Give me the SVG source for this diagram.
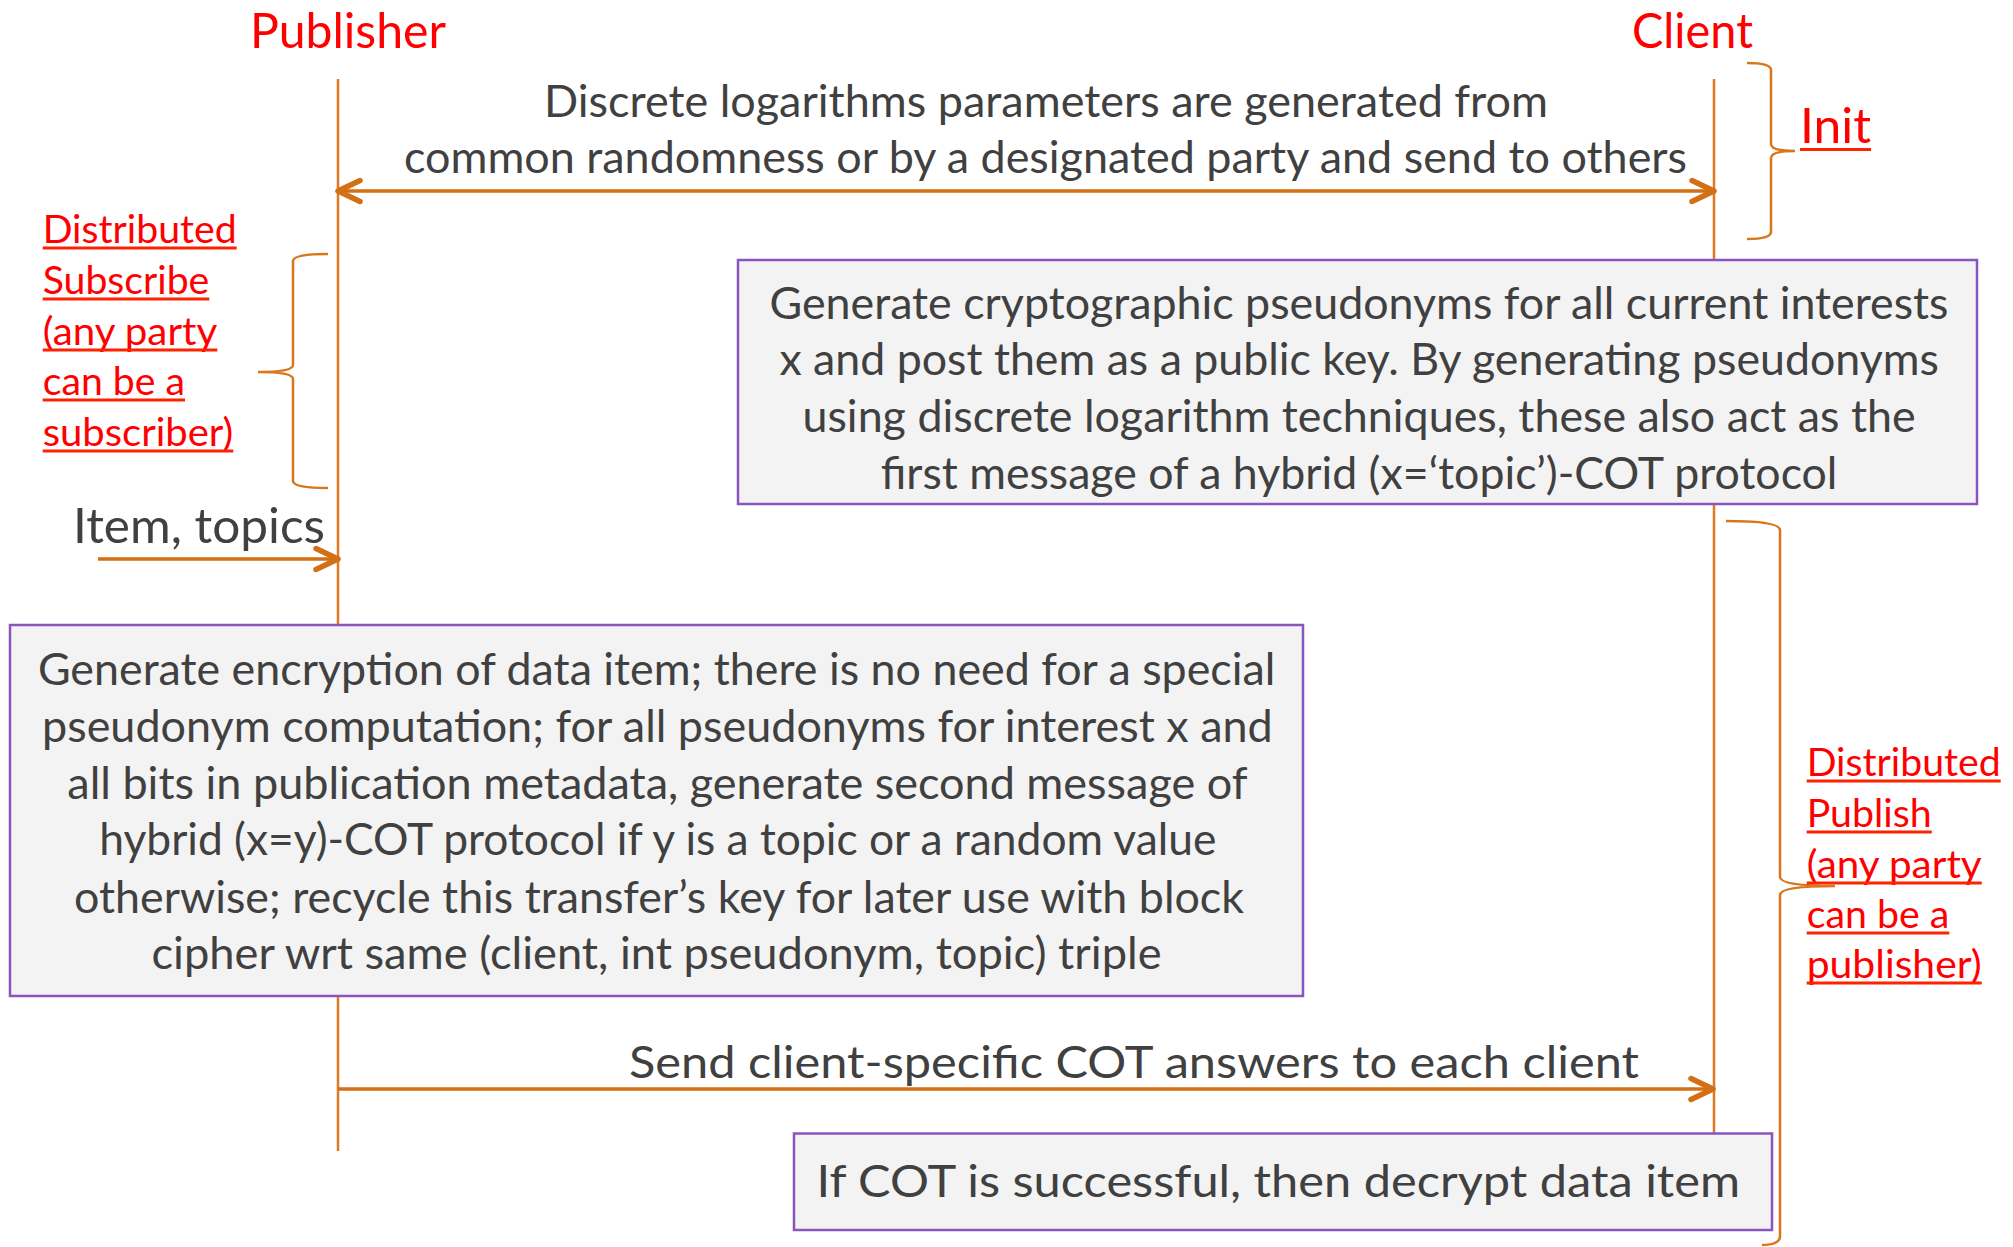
<svg xmlns="http://www.w3.org/2000/svg" width="2013" height="1247" viewBox="0 0 2013 1247">
  <style>
    .title { font-family: Lato, "Liberation Sans", sans-serif; font-size: 48px; fill: #FF0000; }
    .body { font-family: Lato, "Liberation Sans", sans-serif; font-size: 44px; fill: #404040; }
    .big { font-family: Lato, "Liberation Sans", sans-serif; font-size: 48px; fill: #404040; }
    .note { font-family: Lato, "Liberation Sans", sans-serif; font-size: 39px; fill: #FF0000; }
    .uline { stroke: #FF2200; stroke-width: 3; }
    .box { fill: #F3F3F3; stroke: #8A55BF; stroke-width: 2.5; }
    .life { stroke: #E07A22; stroke-width: 2.5; fill: none; }
    .msg { stroke: #D36F14; stroke-width: 3.5; fill: none; }
    .brace { stroke: #D9761C; stroke-width: 2.5; fill: none; }
  </style>
  <defs>
    <marker id="chev" viewBox="-27 -15 32 30" refX="0" refY="0" markerWidth="32" markerHeight="30" markerUnits="userSpaceOnUse" orient="auto-start-reverse">
      <path d="M-22,-10.5 L0,0 L-22,10.5" fill="none" stroke="#D36F14" stroke-width="5.5" stroke-linecap="round" stroke-linejoin="round"/>
    </marker>
  </defs>

  <rect width="2013" height="1247" fill="#FFFFFF"/>

  <!-- lifelines and messages -->
  <g id="connectors">
    <line class="life" x1="338" y1="79" x2="338" y2="1151"/>
    <line class="life" x1="1714" y1="79" x2="1714" y2="1134"/>
    <line id="msg-params" class="msg" x1="338" y1="191" x2="1714" y2="191" marker-start="url(#chev)" marker-end="url(#chev)"/>
    <line id="msg-item" class="msg" x1="98" y1="559" x2="338" y2="559" marker-end="url(#chev)"/>
    <line id="msg-answers" class="msg" x1="338" y1="1089" x2="1713" y2="1089" marker-end="url(#chev)"/>
  </g>

  <!-- participants -->
  <g id="publisher">
    <text class="title" x="250" y="48" textLength="196" lengthAdjust="spacingAndGlyphs">Publisher</text>
  </g>
  <g id="client">
    <text class="title" x="1632" y="48" textLength="121" lengthAdjust="spacingAndGlyphs">Client</text>
  </g>

  <!-- message labels -->
  <g id="label-params">
    <text class="body" x="544" y="117" textLength="1004" lengthAdjust="spacingAndGlyphs">Discrete logarithms parameters are generated from</text>
    <text class="body" x="404" y="173" textLength="1283" lengthAdjust="spacingAndGlyphs">common randomness or by a designated party and send to others</text>
  </g>
  <g id="label-item">
    <text class="big" x="73" y="543" textLength="252" lengthAdjust="spacingAndGlyphs">Item, topics</text>
  </g>
  <g id="label-answers">
    <text class="body" x="629" y="1078" textLength="1010" lengthAdjust="spacingAndGlyphs">Send client-specific COT answers to each client</text>
  </g>

  <!-- client: pseudonym generation -->
  <g id="box-pseudonyms">
    <rect class="box" x="738" y="260" width="1239" height="244"/>
    <text class="body" x="769.5" y="319" textLength="1179" lengthAdjust="spacingAndGlyphs">Generate cryptographic pseudonyms for all current interests</text>
    <text class="body" x="779.4" y="375" textLength="1159.4" lengthAdjust="spacingAndGlyphs">x and post them as a public key. By generating pseudonyms</text>
    <text class="body" x="802.5" y="432" textLength="1113.2" lengthAdjust="spacingAndGlyphs">using discrete logarithm techniques, these also act as the</text>
    <text class="body" x="880.8" y="489" textLength="956.6" lengthAdjust="spacingAndGlyphs">first message of a hybrid (x=‘topic’)-COT protocol</text>
  </g>

  <!-- publisher: encryption -->
  <g id="box-encryption">
    <rect class="box" x="10" y="625" width="1293" height="371"/>
    <text class="body" x="37.9" y="685" textLength="1237.4" lengthAdjust="spacingAndGlyphs">Generate encryption of data item; there is no need for a special</text>
    <text class="body" x="42" y="742" textLength="1230.7" lengthAdjust="spacingAndGlyphs">pseudonym computation; for all pseudonyms for interest x and</text>
    <text class="body" x="67.3" y="799" textLength="1180.2" lengthAdjust="spacingAndGlyphs">all bits in publication metadata, generate second message of</text>
    <text class="body" x="99.3" y="855" textLength="1117" lengthAdjust="spacingAndGlyphs">hybrid (x=y)-COT protocol if y is a topic or a random value</text>
    <text class="body" x="74" y="913" textLength="1170" lengthAdjust="spacingAndGlyphs">otherwise; recycle this transfer’s key for later use with block</text>
    <text class="body" x="151.5" y="969" textLength="1010.1" lengthAdjust="spacingAndGlyphs">cipher wrt same (client, int pseudonym, topic) triple</text>
  </g>

  <!-- client: decryption -->
  <g id="box-decrypt">
    <rect class="box" x="794" y="1133.5" width="978" height="96.5"/>
    <text class="body" x="816.5" y="1197" textLength="923.5" lengthAdjust="spacingAndGlyphs">If COT is successful, then decrypt data item</text>
  </g>

  <!-- phase annotations -->
  <g id="phase-init">
    <path class="brace" d="M1747,63 Q1771,63 1771,70 L1771,144 Q1771,151 1795,151 Q1771,151 1771,158 L1771,232 Q1771,239 1747,239"/>
    <text class="title" x="1800" y="143" textLength="71" lengthAdjust="spacingAndGlyphs">Init</text>
    <line class="uline" x1="1800" y1="149.5" x2="1871" y2="149.5" stroke-width="3.5"/>
  </g>

  <g id="phase-subscribe">
    <path class="brace" d="M328,254 Q293,254 293,261 L293,365 Q293,372 258,372 Q293,372 293,379 L293,481 Q293,488 328,488"/>
    <text class="note" x="42.7" y="243" textLength="194" lengthAdjust="spacingAndGlyphs">Distributed</text>
    <text class="note" x="42.7" y="294" textLength="166.6" lengthAdjust="spacingAndGlyphs">Subscribe</text>
    <text class="note" x="42.7" y="345" textLength="174.6" lengthAdjust="spacingAndGlyphs">(any party</text>
    <text class="note" x="42.7" y="395" textLength="142.3" lengthAdjust="spacingAndGlyphs">can be a</text>
    <text class="note" x="42.7" y="446" textLength="190.6" lengthAdjust="spacingAndGlyphs">subscriber)</text>
    <line class="uline" x1="42.7" y1="248" x2="236.7" y2="248"/>
    <line class="uline" x1="42.7" y1="299" x2="209.3" y2="299"/>
    <line class="uline" x1="42.7" y1="350" x2="217.3" y2="350"/>
    <line class="uline" x1="42.7" y1="400" x2="185" y2="400"/>
    <line class="uline" x1="42.7" y1="451" x2="233.3" y2="451"/>
  </g>

  <g id="phase-publish">
    <path class="brace" d="M1726,521 Q1780,521 1780,530 L1780,877 Q1780,886 1835,886 Q1780,886 1780,895 L1780,1236 Q1780,1245 1762,1245"/>
    <text class="note" x="1806.7" y="776" textLength="194" lengthAdjust="spacingAndGlyphs">Distributed</text>
    <text class="note" x="1806.7" y="827" textLength="125" lengthAdjust="spacingAndGlyphs">Publish</text>
    <text class="note" x="1806.7" y="878" textLength="175" lengthAdjust="spacingAndGlyphs">(any party</text>
    <text class="note" x="1806.7" y="928" textLength="142.6" lengthAdjust="spacingAndGlyphs">can be a</text>
    <text class="note" x="1806.7" y="978" textLength="175" lengthAdjust="spacingAndGlyphs">publisher)</text>
    <line class="uline" x1="1806.7" y1="781" x2="2000.7" y2="781"/>
    <line class="uline" x1="1806.7" y1="832" x2="1931.7" y2="832"/>
    <line class="uline" x1="1806.7" y1="883" x2="1981.7" y2="883"/>
    <line class="uline" x1="1806.7" y1="933" x2="1949.3" y2="933"/>
    <line class="uline" x1="1806.7" y1="983" x2="1981.7" y2="983"/>
  </g>
</svg>
